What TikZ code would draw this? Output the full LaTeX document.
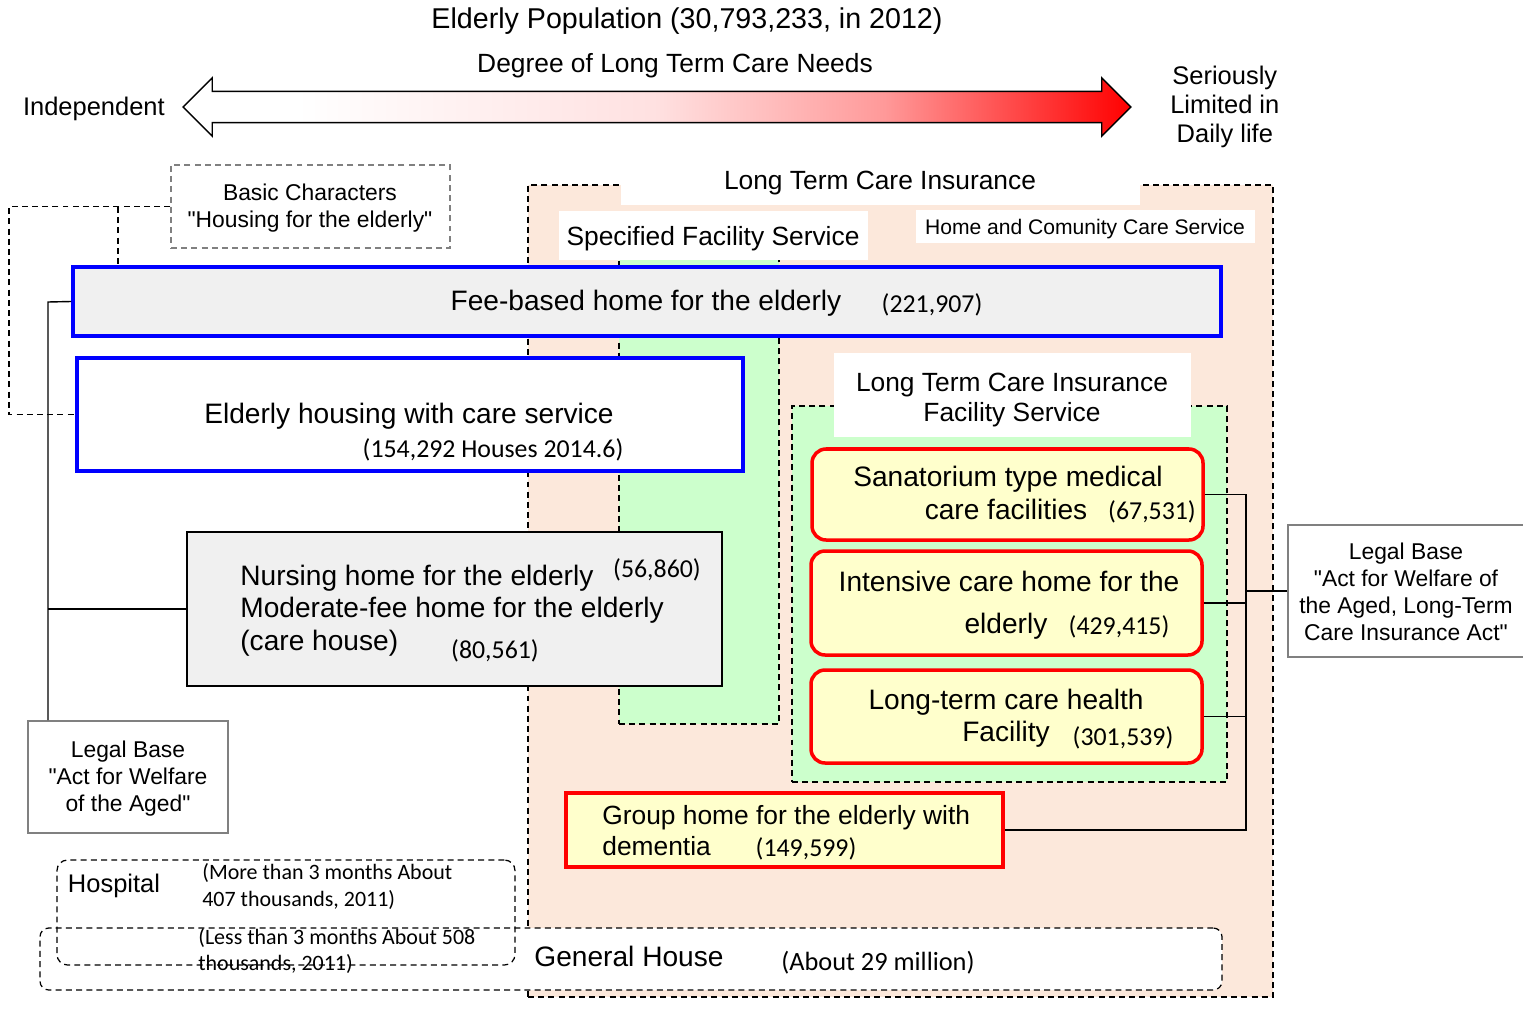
\documentclass[tikz,border=0pt]{standalone}
\usepackage{fontspec}
\setmainfont{Liberation Sans}[Ligatures=TeXOff]
\newfontfamily\calib{Carlito}
\usepackage{xcolor}
\usepackage{tikz}
\usetikzlibrary{positioning}
\usetikzlibrary{fit}
\usetikzlibrary{shapes.arrows}

\definecolor{peach}{HTML}{FCE8DB}
\definecolor{mint}{HTML}{CCFFCC}
\definecolor{pale}{HTML}{FFFFCC}
\definecolor{boxgray}{HTML}{F0F0F0}

\pgfdeclarehorizontalshading{needshade}{100bp}{color(0bp)=(white); color(31bp)=(white); color(50bp)=(red!12); color(62bp)=(red!40); color(75bp)=(red); color(100bp)=(red)}

\newcommand{\fs}[2]{\fontsize{#1}{#2}\selectfont}

\begin{document}
\begin{tikzpicture}[x=0.02cm,y=-0.02cm,
        txt/.style={inner sep=0pt,text height=0.92em,text depth=0pt,font=\fs{16}{19}},
        num/.style={inner sep=0pt,text height=0.92em,text depth=0pt,font=\calib\fs{14.7}{17}},
        multi/.style={inner sep=0pt,align=center},
        dashline/.style={draw,dash pattern=on 3.4pt off 2.4pt,line width=0.7pt},
        dashbox/.style={dashline,inner sep=0pt},
        whitelab/.style={fill=white,inner sep=0pt},
        bluebox/.style={draw=blue,line width=2pt,inner sep=0pt},
        redbox/.style={draw=red,line width=2pt,fill=pale,rounded corners=8pt,inner sep=0pt},
        lawbox/.style={draw=black!50,line width=0.9pt,fill=white,inner sep=0pt},
        wire/.style={line width=0.8pt}]
        \useasboundingbox (0,0) rectangle (1523,1017);

        \node[txt,font=\fs{16.3}{19}] (Pop) at (687,20) {Elderly Population (30,793,233, in 2012)};
        \node[txt,font=\fs{15}{18}] (Deg) at (675,64) {Degree of Long Term Care Needs};

        \node[double arrow,draw,line width=0.8pt,shade,shading=needshade,
              minimum height=18.96cm,minimum width=1.14cm,
              double arrow head extend=0.27cm,inner xsep=0pt,inner ysep=0.3cm] (Need) at (657,107) {};
        \node[txt,font=\fs{14.5}{17},left=0.34cm of Need.west] (Ind) {Independent};
        \node[multi,font=\fs{14.5}{16.7},right=0.76cm of Need.east] (Ser) {Seriously\\Limited in\\Daily life};

        \node[dashbox,fill=peach,fit={(528,185) (1273,997)}] (Lti) {};
        \node[dashbox,fill=mint,fit={(619,250) (779,724)}] (Sfa) {};
        \node[dashbox,fill=mint,fit={(792,406) (1227,782)}] (Lfa) {};

        \node[whitelab,fit={(621,163) (1140,205)}] (LtiL) {};
        \node[txt,font=\fs{15}{18}] (LtiT) at (880,181) {Long Term Care Insurance};
        \node[whitelab,fit={(559,211) (868,260)}] (SfaL) {};
        \node[txt,font=\fs{15}{18}] (SfaT) at (713,237) {Specified Facility Service};
        \node[whitelab,fit={(916,210) (1255,243)}] (HcsL) {};
        \node[txt,font=\fs{12}{14}] (HcsT) at (1085,226) {Home and Comunity Care Service};
        \node[whitelab,fit={(834,353) (1191,437)}] (LfaL) {};
        \node[multi,font=\fs{15}{17}] (LfaT) at (1012,400) {Long Term Care Insurance\\Facility Service};

        \node[dashbox,draw=black!50,fit={(171,165) (450,248)}] (Bc) {};
        \node[multi,font=\fs{13}{15.3}] (BcT) at (310,208) {Basic Characters\\"Housing for the elderly"};

        \node[bluebox,fill=boxgray,fit={(73,267) (1221,336)}] (Fh) {};
        \node[txt] (FhT) at (646,302) {Fee-based home for the elderly};
        \node[num] (FhN) at (932,304) {(221,907)};

        \node[bluebox,fill=white,fit={(77,358) (743,471)}] (Eh) {};
        \node[txt] (EhT) at (409,415) {Elderly housing with care service};
        \node[num] (EhN) at (493,449) {(154,292 Houses 2014.6)};

        \node[draw,line width=0.9pt,fill=boxgray,inner sep=0pt,fit={(187,532) (722,686)}] (Nh) {};
        \node[txt,anchor=west] (Nh1) at (240,577) {Nursing home for the elderly};
        \node[txt,anchor=west] (Nh2) at (240,609) {Moderate-fee home for the elderly};
        \node[txt,anchor=west] (Nh3) at (240,642) {(care house)};
        \node[num] (Nh1N) at (657,569) {(56,860)};
        \node[num] (Nh3N) at (495,650) {(80,561)};

        \node[redbox,fit={(812,449) (1203,540)}] (Sm) {};
        \node[txt] (Sm1) at (1008,478) {Sanatorium type medical};
        \node[txt] (Sm2) at (1006,511) {care facilities};
        \node[num] (SmN) at (1152,511) {(67,531)};

        \node[redbox,fit={(811,551) (1202,655)}] (Ic) {};
        \node[txt] (Ic1) at (1009,583) {Intensive care home for the};
        \node[txt] (Ic2) at (1006,625) {elderly};
        \node[num] (IcN) at (1119,626) {(429,415)};

        \node[redbox,fit={(811,670) (1202,763)}] (Lh) {};
        \node[txt] (Lh1) at (1006,701) {Long-term care health};
        \node[txt] (Lh2) at (1006,733) {Facility};
        \node[num] (LhN) at (1123,737) {(301,539)};

        \node[redbox,rounded corners=0pt,fit={(566,793) (1003,867)}] (Gh) {};
        \node[txt,font=\fs{15}{17},anchor=west] (Gh1) at (602,816) {Group home for the elderly with};
        \node[txt,font=\fs{15}{17},anchor=west] (Gh2) at (602,847) {dementia};
        \node[num] (GhN) at (806,848) {(149,599)};

        \node[dashbox,fill=white,rounded corners=5pt,fit={(40,928) (1222,990)}] (Gen) {};
        \node[txt] (GenT) at (629,958) {General House};
        \node[num,font=\calib\fs{15}{17}] (GenN) at (878,962) {(About 29 million)};

        \node[dashbox,rounded corners=6pt,fit={(57,860) (515,965)}] (Hp) {};
        \node[txt,font=\fs{14.5}{17}] (HpT) at (114,884) {Hospital};
        \node[num,font=\calib\fs{12.5}{15},anchor=west] (Hp1) at (202,871) {(More than 3 months About};
        \node[num,font=\calib\fs{12.5}{15},anchor=west] (Hp2) at (202,898) {407 thousands, 2011)};
        \node[num,font=\calib\fs{12.5}{15},anchor=west] (Hp3) at (198,936) {(Less than 3 months About 508};
        \node[num,font=\calib\fs{12.5}{15},anchor=west] (Hp4) at (198,962) {thousands, 2011)};

        \node[lawbox,fit={(28,721) (228,833)}] (LbA) {};
        \node[multi,font=\fs{13}{15.4}] (LbAT) at (128,779) {Legal Base\\"Act for Welfare\\of the Aged"};
        \node[lawbox,fit={(1288,525) (1530,657)}] (LbB) {};
        \node[multi,font=\fs{13}{15.4}] (LbBT) at (1406,592) {Legal Base\\"Act for Welfare of\\the Aged, Long-Term\\Care Insurance Act"};

        \coordinate (Lo) at (9,207);
        \coordinate (Li) at (118,207);
        \draw[dashline] (Bc.west) -| (Eh.west -| Lo) -- (Eh.west);
        \draw[dashline] (Li) -- (Li |- Fh.north);

        \coordinate (Lt) at (48,302);
        \draw[wire] (Fh.west) -- (Lt) -- (Lt |- LbA.north);
        \draw[wire] (Nh.west) -- (Nh.west -| Lt);

        \coordinate (Rt) at (1246,592);
        \draw[wire] (Sm.east) -- (Sm.east -| Rt) -- (Gh.east -| Rt) -- (Gh.east);
        \draw[wire] (Ic.east) -- (Ic.east -| Rt);
        \draw[wire] (Lh.east) -- (Lh.east -| Rt);
        \draw[wire] (LbB.west) -- (LbB.west -| Rt);

    \end{tikzpicture}
\end{document}
